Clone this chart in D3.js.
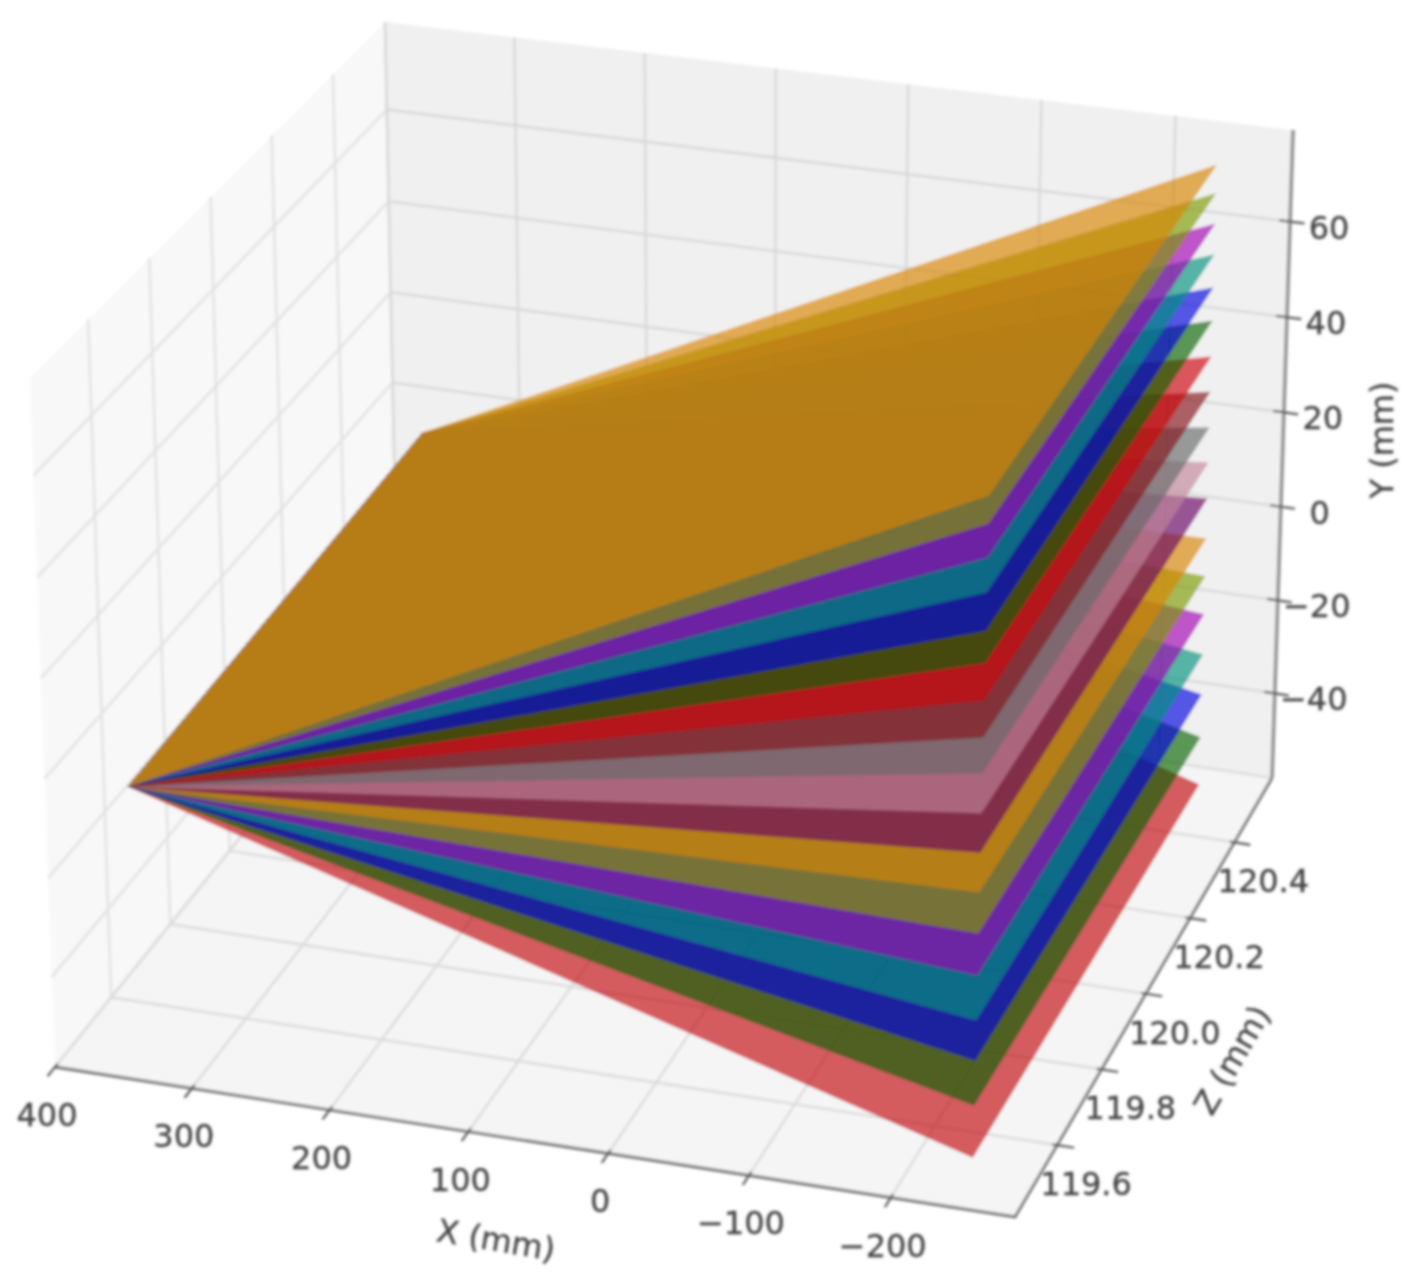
<!DOCTYPE html>
<html>
<head>
<meta charset="utf-8">
<script src="https://cdn.jsdelivr.net/npm/d3@7"></script>
<style>
html,body{margin:0;padding:0;background:#fff}
svg{display:block}
text{font-family:"DejaVu Sans",sans-serif;font-size:32px;fill:#444;stroke:#444;stroke-width:0.35px}
</style>
</head>
<body>
<svg id="chart" width="1416" height="1287"></svg>
<script>
// ---- data ----
const xTicks = [400, 300, 200, 100, 0, -100, -200];
const yTicks = [60, 40, 20, 0, -20, -40];
const zTicks = [119.6, 119.8, 120.0, 120.2, 120.4];
const zTickLabels = ["119.6", "119.8", "120.0", "120.2", "120.4"];
const xLimits = [400, -287];
const yLimits = [-58.3, 79];
const zLimits = [119.41, 120.57];

// sheets, bottom to top: all start at one line and fan out to these Y values
const sheetStartX = 360;
const sheetEndX = -243;
const sheetZ = [119.5, 120.5];
const sheetStartY = [-6.2, -4.2];
const sheetEndYNear = [-55.2, -44.8, -35.8, -27.8, -18.9, -10.6, -2.5, 5.3, 13, 20.8, 27.8, 35, 42.2, 48.5, 55.9, 62.6, 69.1, 74.5];
const sheetEndYFar = [-55.9, -45.7, -36.5, -27.9, -19.3, -11.2, -3.2, 5.3, 12.9, 20.3, 27.8, 35.2, 42.7, 49.6, 56.5, 62.9, 69.2, 75.1];
const sheetColors = ["#c2080e", "#096600", "#0202e1", "#00947d", "#a300b2", "#7d9b00", "#d98401",
                     "#680264", "#c0869a", "#676a68", "#84141a",
                     "#d0050b", "#096600", "#0202e1", "#00947d", "#a300b2", "#7d9b00", "#d98401"];
const sheetOpacity = 0.65;

// ---- style and layout ----
const depth = 1.025; // slight perspective along the X and Y axes
const persp = t => t / (depth - (depth - 1) * t);
const xLin = d3.scaleLinear().domain(xLimits).range([0, 1]);
const yLin = d3.scaleLinear().domain(yLimits).range([0, 1]);
const zScale = d3.scaleLinear().domain(zLimits).range([0, 1]);
const xScale = v => persp(xLin(v));
const yScale = v => persp(yLin(v));

// screen position of the eight cube corners; [u][v][w]
const cube = [
  [[[55, 1067], [30, 378]], [[398, 642], [385, 22]]],
  [[[1015, 1217], [1035, 510]], [[1272, 778], [1293, 130]]]
];
const mix = (a, b, t) => [a[0] + (b[0] - a[0]) * t, a[1] + (b[1] - a[1]) * t];
function unit(u, v, w) {
  const b0 = mix(mix(cube[0][0][0], cube[1][0][0], u), mix(cube[0][1][0], cube[1][1][0], u), v);
  const b1 = mix(mix(cube[0][0][1], cube[1][0][1], u), mix(cube[0][1][1], cube[1][1][1], u), v);
  return mix(b0, b1, w);
}
const project = (x, y, z) => unit(xScale(x), zScale(z), yScale(y));
const line = d3.line();
const closed = d3.line().curve(d3.curveLinearClosed);

const svg = d3.select("#chart");
const defs = svg.append("defs");
defs.append("filter").attr("id", "soft").attr("filterUnits", "userSpaceOnUse")
  .attr("x", 0).attr("y", 0).attr("width", 1416).attr("height", 1287)
  .append("feGaussianBlur").attr("stdDeviation", 1.4);
const g = svg.append("g").attr("filter", "url(#soft)");

// panes
const panes = g.append("g");
const pane = (pts, fill) => panes.append("path").attr("d", closed(pts.map(p => unit(...p)))).attr("fill", fill);
pane([[0,0,0],[0,1,0],[0,1,1],[0,0,1]], "#f8f8f8");
pane([[0,1,0],[1,1,0],[1,1,1],[0,1,1]], "#f0f0f0");
pane([[0,0,0],[1,0,0],[1,1,0],[0,1,0]], "#f5f5f5");

// grid
const grid = g.append("g").attr("fill", "none").attr("stroke-width", 2.6);
const gridLine = (pts, c) => grid.append("path").attr("stroke", c).attr("d", line(pts.map(p => unit(...p))));
const gridBack = "#d9d9d9", gridLeft = "#e2e2e2", gridFloor = "#dcdcdc";
xTicks.forEach(t => {
  const u = xScale(t);
  gridLine([[u,0,0],[u,1,0]], gridFloor);
  gridLine([[u,1,0],[u,1,1]], gridBack);
});
zTicks.forEach(t => {
  const v = zScale(t);
  gridLine([[1,v,0],[0,v,0]], gridFloor);
  gridLine([[0,v,0],[0,v,1]], gridLeft);
});
yTicks.forEach(t => {
  const w = yScale(t);
  gridLine([[0,0,w],[0,1,w]], gridLeft);
  gridLine([[0,1,w],[1,1,w]], gridBack);
});
gridLine([[0,1,1],[0,1,0]], gridBack);
gridLine([[0,0,0],[0,1,0],[1,1,0]], gridFloor);

// sheets
g.append("g").selectAll("path").data(sheetEndYNear).join("path")
  .attr("d", (near, i) => closed([
    project(sheetStartX, sheetStartY[0], sheetZ[0]),
    project(sheetStartX, sheetStartY[1], sheetZ[1]),
    project(sheetEndX, sheetEndYFar[i], sheetZ[1]),
    project(sheetEndX, near, sheetZ[0])
  ]))
  .attr("fill", (d, i) => sheetColors[i])
  .attr("fill-opacity", sheetOpacity);

// axes
const axes = g.append("g").attr("fill", "none");
axes.append("path").attr("d", line([unit(0,0,0), unit(1,0,0), unit(1,1,0)]))
  .attr("stroke", "#6e6e6e").attr("stroke-width", 2.8);
axes.append("path").attr("d", line([unit(1,1,0), unit(1,1,1)]))
  .attr("stroke", "#8f8f8f").attr("stroke-width", 3.6);

const ticks = g.append("g").attr("fill", "none").attr("stroke", "#555").attr("stroke-width", 2.2);
const labels = g.append("g");
function label(pos, dx, dy, txt) {
  labels.append("text").attr("x", pos[0] + dx).attr("y", pos[1] + dy)
    .attr("text-anchor", "middle").attr("dominant-baseline", "central").text(txt);
}
const fmt = v => String(v).replace("-", "\u2212");
xTicks.forEach(t => {
  const u = xScale(t);
  ticks.append("path").attr("d", line([unit(u,0.008,0), unit(u,-0.022,0)]));
  label(unit(u,0,0), -8, 48, fmt(t));
});
zTicks.forEach((t, i) => {
  const v = zScale(t);
  ticks.append("path").attr("d", line([unit(0.995,v,0), unit(1.018,v,0)]));
  label(unit(1,v,0), 29, 39, zTickLabels[i]);
});
yTicks.forEach(t => {
  const w = yScale(t);
  ticks.append("path").attr("d", line([unit(0.988,1,w), unit(1.016,1,w)]));
  label(unit(1,1,w), 39, 6, fmt(t));
});

// axis titles
const title = (x, y, rot, txt) => labels.append("text")
  .attr("text-anchor", "middle").attr("dominant-baseline", "central")
  .attr("transform", `translate(${x},${y}) rotate(${rot})`).text(txt);
title(496, 1240, 9.5, "X (mm)");
title(1382, 440, -90, "Y (mm)");
title(1232, 1060, -60, "Z (mm)");
</script>
</body>
</html>
